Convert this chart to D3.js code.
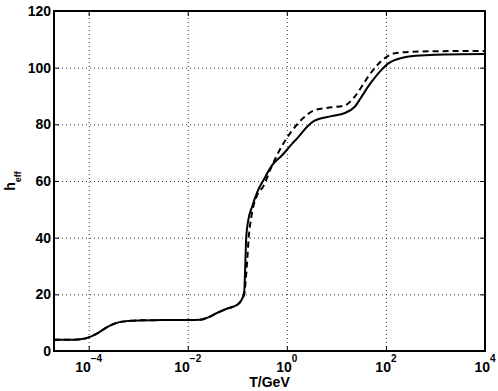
<!DOCTYPE html>
<html>
<head>
<meta charset="utf-8">
<script src="https://cdn.jsdelivr.net/npm/d3@7"></script>
<style>
  body { margin: 0; background: #fff; }
  svg { font-family: "Liberation Sans", Arial, sans-serif; font-weight: bold; }
  .grid line { stroke: #000; stroke-dasharray: 1,3; stroke-width: 0.8; }
  .grid path { display: none; }
</style>
</head>
<body>
<svg width="498" height="391"></svg>
<script>
// log10(T/GeV) sample points
var logT = [-4.7, -4.3, -4.1, -4.0, -3.8, -3.6, -3.4, -3.2, -3.0, -2.5, -2.0, -1.75, -1.6, -1.4, -1.2, -1.0, -0.9,
            -0.86, -0.84, -0.82, -0.78, -0.7, -0.6, -0.45, -0.3, -0.1, 0.1, 0.23, 0.4, 0.56, 0.9, 1.17, 1.37,
            1.5, 1.64, 1.8, 1.91, 2.05, 2.18, 2.4, 2.6, 3.0, 4.0];
var hSolid = [4.0, 4.0, 4.3, 4.8, 6.5, 8.7, 10.1, 10.6, 10.8, 10.9, 10.9, 11.0, 11.8, 13.5, 15.0, 16.3, 18.5,
              21, 30, 40, 46, 51, 56, 61, 65.5, 69, 73, 75.5, 79, 81.3, 82.9, 84, 86.2,
              89.5, 93.3, 97, 99.2, 101.5, 102.7, 103.8, 104.2, 104.6, 104.8];

var logTDash = [-4.7, -4.3, -4.1, -4.0, -3.8, -3.6, -3.4, -3.2, -3.0, -2.5, -2.0, -1.75, -1.6, -1.4, -1.2, -1.0, -0.9,
                -0.86, -0.83, -0.8, -0.77, -0.72, -0.6, -0.48, -0.31, -0.107, 0.09, 0.36, 0.56, 0.9, 1.17, 1.37,
                1.5, 1.64, 1.78, 1.91, 2.18, 2.5, 3.0, 4.0];
var hDash = [4.0, 4.0, 4.3, 4.8, 6.5, 8.7, 10.1, 10.6, 10.8, 10.9, 10.9, 11.0, 11.8, 13.5, 15.0, 16.3, 18.5,
             20, 25, 32, 40, 47, 55, 58, 65, 72.1, 77.4, 82.7, 85, 86, 86.7, 89.8,
             93, 96.8, 100, 102.4, 105.1, 105.6, 105.8, 105.9];

var xTicks = [1e-4, 1e-2, 1e0, 1e2, 1e4];
var xExps = ["\u22124", "\u22122", "0", "2", "4"];
var yTicks = [0, 20, 40, 60, 80, 100, 120];

var svg = d3.select("svg"),
    margin = {top: 11, right: 14, bottom: 40, left: 54},
    width = 485 - margin.left,
    height = 351 - margin.top,
    g = svg.append("g").attr("transform", "translate(" + margin.left + "," + margin.top + ")");

var xScale = d3.scaleLog().domain([Math.pow(10, -4.7), 1e4]).range([0, width]),
    yScale = d3.scaleLinear().domain([0, 120]).range([height, 0]);

// dotted grid
g.append("g").attr("class", "grid")
    .attr("transform", "translate(0," + height + ")")
    .call(d3.axisBottom(xScale).tickValues(xTicks).tickSize(-height).tickFormat(""));
g.append("g").attr("class", "grid")
    .call(d3.axisLeft(yScale).tickValues(yTicks).tickSize(-width).tickFormat(""));

var line = d3.line()
    .curve(d3.curveMonotoneX)
    .x(function (d) { return xScale(Math.pow(10, d[0])); })
    .y(function (d) { return yScale(d[1]); });

g.append("path")
    .datum(logTDash.map(function (v, i) { return [v, hDash[i]]; }))
    .attr("d", line)
    .attr("fill", "none")
    .attr("stroke", "#000")
    .attr("stroke-width", 2)
    .attr("stroke-dasharray", "6,4");

g.append("path")
    .datum(logT.map(function (v, i) { return [v, hSolid[i]]; }))
    .attr("d", line)
    .attr("fill", "none")
    .attr("stroke", "#000")
    .attr("stroke-width", 2);

// inward ticks on all four sides
function tickAxis(axis, tr) {
    var a = g.append("g").attr("transform", tr).call(axis);
    a.select(".domain").remove();
    a.selectAll("line").attr("stroke", "#000").attr("stroke-width", 1);
    a.selectAll("text").remove();
}
tickAxis(d3.axisBottom(xScale).tickValues(xTicks).tickSize(-5), "translate(0," + height + ")");
tickAxis(d3.axisTop(xScale).tickValues(xTicks).tickSize(-5), "translate(0,0)");
tickAxis(d3.axisLeft(yScale).tickValues(yTicks).tickSize(-5), "translate(0,0)");
tickAxis(d3.axisRight(yScale).tickValues(yTicks).tickSize(-5), "translate(" + width + ",0)");

// frame
g.append("rect")
    .attr("width", width).attr("height", height)
    .attr("fill", "none").attr("stroke", "#000").attr("stroke-width", 2);

// y tick labels
g.selectAll(".ylab").data(yTicks).enter().append("text")
    .attr("class", "ylab")
    .attr("x", -3)
    .attr("y", function (d) { return yScale(d); })
    .attr("dy", "0.36em")
    .attr("text-anchor", "end")
    .style("font-size", "14px")
    .text(function (d) { return d; });

// x tick labels, 10^n
var xl = g.selectAll(".xlab").data(xTicks).enter().append("text")
    .attr("class", "xlab")
    .attr("x", function (d) { return xScale(d); })
    .attr("y", height + 21)
    .attr("text-anchor", "middle")
    .style("font-size", "14px");
xl.append("tspan").text("10");
xl.append("tspan")
    .attr("dy", -10)
    .style("font-size", "10px")
    .text(function (d, i) { return xExps[i]; });

g.append("text")
    .attr("x", width / 2)
    .attr("y", height + 36)
    .attr("text-anchor", "middle")
    .style("font-size", "14px")
    .text("T/GeV");

var yl = g.append("text")
    .attr("transform", "translate(-39," + (height / 2) + ") rotate(-90)")
    .attr("text-anchor", "middle")
    .style("font-size", "14px");
yl.append("tspan").text("h");
yl.append("tspan").attr("dy", 6).style("font-size", "9px").text("eff");
</script>
</body>
</html>
